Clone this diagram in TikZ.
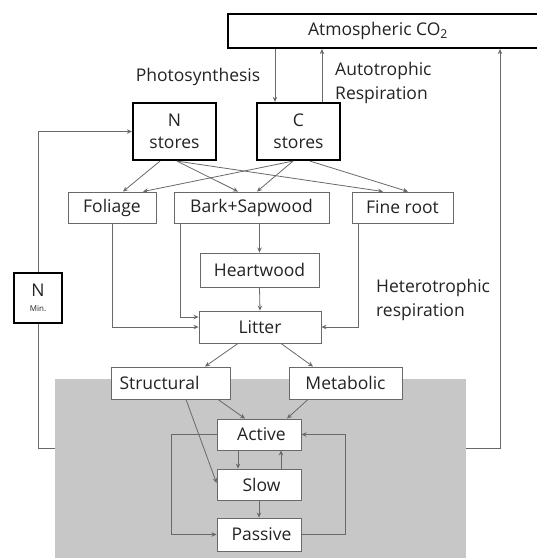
\documentclass[tikz,border=0pt]{standalone}
\usepackage{fontspec}
\setmainfont{Open Sans}
\usetikzlibrary{arrows.meta}
\definecolor{grayfill}{RGB}{199,199,199}
\definecolor{txt}{RGB}{35,35,35}
\definecolor{edge}{RGB}{105,105,105}
\begin{document}
\begin{tikzpicture}[x=1pt,y=-1pt,
  box/.style={draw=edge, line width=0.9pt, fill=white, inner sep=0pt, text=txt,
    minimum height=31pt, font=\fontsize{17.5}{20}\selectfont},
  heavy/.style={draw=black, line width=2.2pt, fill=white, inner sep=0pt, text=txt,
    align=center, font=\fontsize{17.5}{22}\selectfont},
  arr/.style={draw=edge, line width=0.8pt, -{Stealth[length=5pt,width=4.5pt]}},
  ln/.style={draw=edge, line width=0.8pt},
  lbl/.style={text=txt, font=\fontsize{17.5}{24}\selectfont, inner sep=0pt, align=left}]
\useasboundingbox (0,0) rectangle (537,558);
\fill[grayfill] (55,379) rectangle (466,560);
\coordinate (gl) at (55,448);
\coordinate (gr) at (466,448);
\coordinate (rx) at (500,0);
% nodes
\node[heavy, minimum width=317pt, minimum height=34pt] (co2) at (386.5,31) {\hspace*{-17pt}Atmospheric CO\textsubscript{2}};
\node[heavy, minimum width=83pt, minimum height=57pt] (nst) at (174.5,131.5) {N\\stores};
\node[heavy, minimum width=83pt, minimum height=57pt] (cst) at (298.5,131.5) {C\\stores};
\node[heavy, minimum width=48pt, minimum height=50pt, font=\fontsize{17.5}{15}\selectfont] (nmin) at (38,298) {N\\{\fontsize{8}{9}\selectfont Min.}};
\node[box, minimum width=88pt] (fol) at (112,207.5) {Foliage};
\node[box, minimum width=155pt] (bark) at (251.5,207.5) {Bark+Sapwood};
\node[box, minimum width=101pt] (fine) at (402.5,207.5) {Fine root};
\node[box, minimum width=119pt, minimum height=34pt] (heart) at (259.5,270) {Heartwood};
\node[box, minimum width=122pt, minimum height=32pt] (litter) at (260,327) {Litter};
\node[box, minimum width=119pt, minimum height=32pt] (struct) at (170.5,383) {\hspace*{-22pt}Structural};
\node[box, minimum width=113pt, minimum height=32pt] (meta) at (345.5,383) {Metabolic};
\node[box, minimum width=84pt] (active) at (259,434.5) {\hspace*{5pt}Active};
\node[box, minimum width=84pt] (slow) at (259,484.5) {\hspace*{5pt}Slow};
\node[box, minimum width=84pt, minimum height=33pt] (passive) at (259,534.5) {\hspace*{5pt}Passive};
% labels
\node[lbl] (photo) at (198,77) {Photosynthesis};
\node[lbl, anchor=west] (auto) at (335,83) {Autotrophic\\Respiration};
\node[lbl, anchor=west] (hetero) at (376,300) {Heterotrophic\\respiration};
% connectors
\draw[arr] ([xshift=-23.5pt]cst.north |- co2.south) -- ([xshift=-23.5pt]cst.north);
\draw[arr] ([xshift=23.5pt]cst.north) -- ([xshift=23.5pt]cst.north |- co2.south);
\draw[arr] (gr) -| (co2.south -| rx);
\draw[ln] (gl) -| (nmin.south);
\draw[arr] (nmin.north) |- (nst.west);
\draw[arr] ([xshift=-14.5pt]nst.south) -- ([xshift=11pt]fol.north);
\draw[arr] ([xshift=2.5pt]nst.south) -- ([xshift=-13.5pt]bark.north);
\draw[arr] ([xshift=2.5pt]nst.south) -- ([xshift=-19.5pt]fine.north);
\draw[arr] ([xshift=-5.5pt]cst.south) -- ([xshift=31pt]fol.north);
\draw[arr] ([xshift=-5.5pt]cst.south) -- ([xshift=5.5pt]bark.north);
\draw[arr] ([xshift=11.5pt]cst.south) -- ([xshift=5.5pt]fine.north);
\draw[arr] (fol.south) |- (litter.west);
\draw[arr] ([xshift=-71.5pt]bark.south) |- ([yshift=10pt]litter.west);
\draw[arr] ([xshift=-44.5pt]fine.south) |- (litter.east);
\draw[arr] (bark.south -| heart.north) -- (heart.north);
\draw[arr] (heart.south) -- (litter.north);
\draw[arr] ([xshift=-22pt]litter.south) -- ([xshift=34.5pt]struct.north);
\draw[arr] ([xshift=21pt]litter.south) -- ([xshift=-32.5pt]meta.north);
\draw[arr] ([xshift=47.5pt]struct.south) -- ([xshift=-14pt]active.north);
\draw[arr] ([xshift=-37.5pt]meta.south) -- ([xshift=28pt]active.north);
\draw[arr] ([xshift=15.5pt]struct.south) -- ([yshift=1.5pt]slow.west);
\draw[arr] ([xshift=-21pt]active.south) -- ([xshift=-21pt]slow.north);
\draw[arr] ([xshift=22pt]slow.north) -- ([xshift=22pt]active.south);
\draw[arr] (slow.south) -- (passive.north);
\draw[arr] (active.west) -- ++(-45,0) |- (passive.west);
\draw[arr] (passive.east) -- ++(44,0) |- (active.east);
\end{tikzpicture}
\end{document}
